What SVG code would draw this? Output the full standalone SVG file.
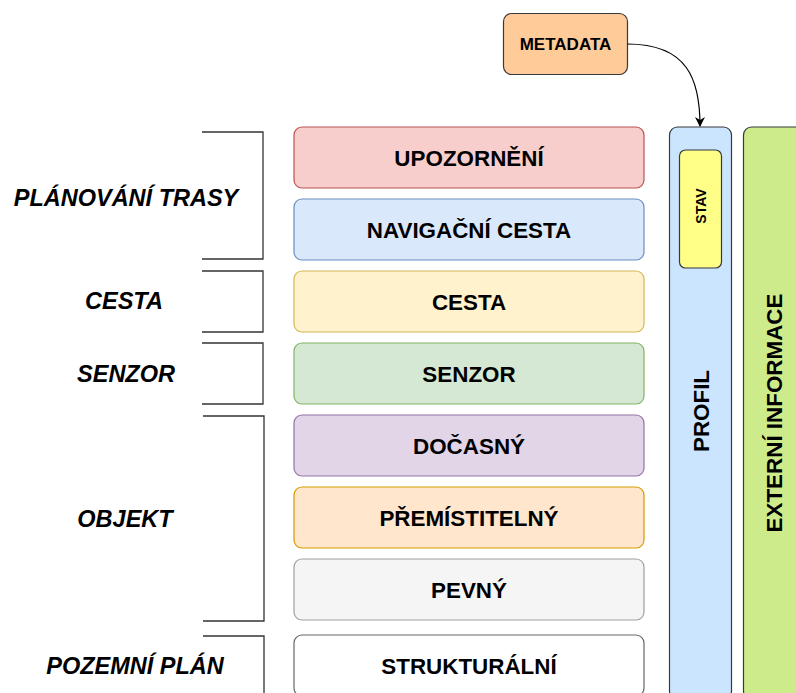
<svg xmlns="http://www.w3.org/2000/svg" width="796" height="693" viewBox="0 0 796 693">
<style>
.box{stroke-width:1.2}
.t{font-family:"Liberation Sans",Arial,sans-serif;font-weight:bold;font-size:22.4px;fill:#000;text-anchor:middle}
.side{font-family:"Liberation Sans",Arial,sans-serif;font-weight:bold;font-style:italic;font-size:23.5px;fill:#000;text-anchor:middle}
.br{fill:none;stroke:#333;stroke-width:1.3}
</style>
<defs>
<marker id="arr" viewBox="0 0 10 10" refX="9" refY="5" markerWidth="10" markerHeight="10" markerUnits="userSpaceOnUse" orient="auto">
<path d="M0,0 L10,5 L0,10 L3,5 Z" fill="#000"/>
</marker>
</defs>
<rect width="796" height="693" fill="#fff"/>
<g id="brackets">
<path class="br" d="M202,132 H263 V259 H202"/>
<path class="br" d="M202,271 H263 V332 H202"/>
<path class="br" d="M202,343 H263 V404 H202"/>
<path class="br" d="M203,416 H264 V621 H203"/>
<path class="br" d="M203,636 H264 V700"/>
</g>
<g id="side-labels">
<text class="side" x="126" y="206">PLÁNOVÁNÍ TRASY</text>
<text class="side" x="124" y="309">CESTA</text>
<text class="side" x="126" y="382">SENZOR</text>
<text class="side" x="125" y="527">OBJEKT</text>
<text class="side" x="135" y="674">POZEMNÍ PLÁN</text>
</g>
<g id="upozorneni"><rect class="box" x="294" y="127" width="350" height="61" rx="8" fill="#f8cecc" stroke="#b85450"/><text class="t" x="469" y="165.5">UPOZORNĚNÍ</text></g>
<g id="navigacni"><rect class="box" x="294" y="199" width="350" height="61" rx="8" fill="#dae8fc" stroke="#6c8ebf"/><text class="t" x="469" y="237.5">NAVIGAČNÍ CESTA</text></g>
<g id="cesta"><rect class="box" x="294" y="271" width="350" height="61" rx="8" fill="#fff2cc" stroke="#d6b656"/><text class="t" x="469" y="309.5">CESTA</text></g>
<g id="senzor"><rect class="box" x="294" y="343" width="350" height="61" rx="8" fill="#d5e8d4" stroke="#82b366"/><text class="t" x="469" y="381.5">SENZOR</text></g>
<g id="docasny"><rect class="box" x="294" y="415" width="350" height="61" rx="8" fill="#e1d5e7" stroke="#9673a6"/><text class="t" x="469" y="453.5">DOČASNÝ</text></g>
<g id="premistitelny"><rect class="box" x="294" y="487" width="350" height="61" rx="8" fill="#ffe6cc" stroke="#d79b00"/><text class="t" x="469" y="525.5">PŘEMÍSTITELNÝ</text></g>
<g id="pevny"><rect class="box" x="294" y="559" width="350" height="61" rx="8" fill="#f5f5f5" stroke="#a0a0a0"/><text class="t" x="469" y="597.5">PEVNÝ</text></g>
<g id="strukturalni"><rect class="box" x="294" y="635" width="350" height="61" rx="8" fill="#ffffff" stroke="#666666"/><text class="t" x="469" y="673.5">STRUKTURÁLNÍ</text></g>
<g id="profil"><rect class="box" x="669.5" y="127" width="62" height="572" rx="8" fill="#cce5ff" stroke="#36393d"/><text class="t" transform="translate(708.5,411) rotate(-90)" x="0" y="0">PROFIL</text></g>
<g id="stav"><rect class="box" x="679.5" y="150" width="42" height="118" rx="6" fill="#ffff88" stroke="#36393d"/><text class="t" style="font-size:14px" transform="translate(705.5,206) rotate(-90)" x="0" y="0">STAV</text></g>
<g id="externi"><rect class="box" x="743.5" y="127" width="70" height="572" rx="8" fill="#cdeb8b" stroke="#36393d"/><text class="t" transform="translate(782,413) rotate(-90)" x="0" y="0">EXTERNÍ INFORMACE</text></g>
<g id="metadata"><rect class="box" x="503.5" y="13.5" width="124" height="61" rx="8" fill="#ffcc99" stroke="#36393d"/><text class="t" style="font-size:17px" x="565.5" y="50">METADATA</text></g>
<g id="connectors">
<path d="M627.5,44 C688,44 700,80 700,126" fill="none" stroke="#000" stroke-width="1.2" marker-end="url(#arr)"/>
</g>
</svg>
